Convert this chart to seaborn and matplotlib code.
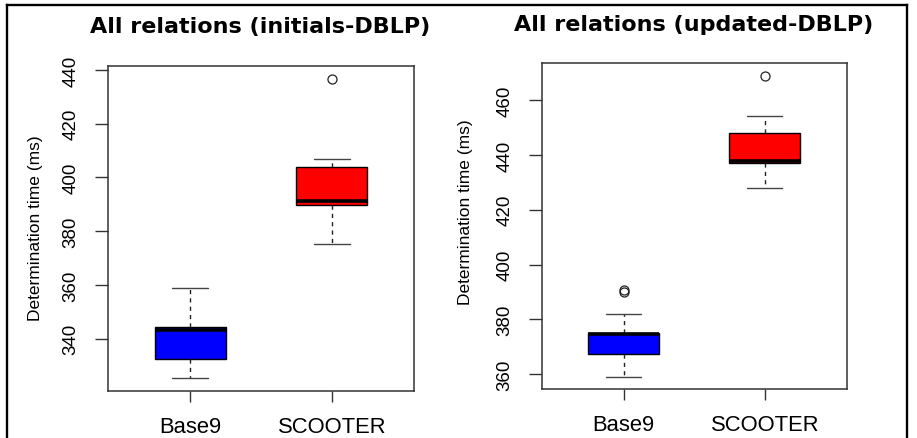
import pandas as pd
import seaborn as sns
import matplotlib.pyplot as plt
from matplotlib.lines import Line2D

methods = ["Base9", "SCOOTER"]
initials_base9 = [325.4, 329, 332.5, 338, 343.3, 343.8, 344.2, 351, 359]
initials_scooter = [375.2, 385, 389.9, 390.5, 391.1, 398, 404, 406.9, 436.8]
updated_base9 = [359, 363, 366, 367.5, 370, 372.5, 374.8, 375, 375.1, 375.2, 381.9, 390.0, 390.6]
updated_scooter = [428, 433, 437, 437.4, 437.8, 443, 447.8, 454, 468.9]

titles = ["All relations (initials-DBLP)", "All relations (updated-DBLP)"]
ylims = [(320.5, 441.5), (354.6, 473.4)]
yticks = [[340, 360, 380, 400, 420, 440], [360, 380, 400, 420, 440, 460]]
ylabel = "Determination time (ms)"
colors = ["#0000ff", "#ff0000"]

sns.set_style("white")
plt.rcParams["font.family"] = ["Liberation Sans", "DejaVu Sans"]
plt.rcParams.update({"text.color": "black", "axes.labelcolor": "black",
                     "xtick.color": "black", "ytick.color": "black"})

fig = plt.figure(figsize=(9.17, 4.39), dpi=100)
axes = [fig.add_axes([0.1178, 0.1071, 0.3337, 0.7403]),
        fig.add_axes([0.5907, 0.1116, 0.3326, 0.7419])]
data = [(initials_base9, initials_scooter), (updated_base9, updated_scooter)]
title_pos = [(260 / 917, 1 - 26.5 / 439), (694 / 917, 1 - 25 / 439)]
label_pos = [(-0.212, 0.505), (-0.225, 0.545)]

for ax, (a, b), title, yl, yt, tp, lp in zip(axes, data, titles, ylims, yticks, title_pos, label_pos):
    df = pd.DataFrame({"method": [methods[0]] * len(a) + [methods[1]] * len(b),
                       "time": a + b})
    sns.boxplot(data=df, x="method", y="time", hue="method", palette=colors,
                saturation=1, width=0.5, linewidth=1, linecolor="black",
                legend=False, ax=ax, fliersize=6.5,
                whiskerprops=dict(linestyle=(0, (3, 3)), color="#222222"),
                capprops=dict(color="#444444"),
                medianprops=dict(linewidth=2.6, color="black"),
                flierprops=dict(marker="o", markerfacecolor="none",
                                markeredgecolor="#222222", markeredgewidth=0.9))
    ax.set_xlim(-0.58, 1.58)
    ax.set_ylim(*yl)
    ax.set_yticks(yt)
    ax.set_yticklabels([str(v) for v in yt], rotation=90, va="center", fontsize=13.5)
    ax.tick_params(axis="y", left=True, direction="out", length=9.5, width=1,
                   pad=11, color="#333333")
    ax.tick_params(axis="x", bottom=True, direction="out", length=8, width=1,
                   pad=10, labelsize=15.8, color="#333333")
    ax.set_xlabel("")
    ax.set_ylabel(ylabel, fontsize=12.5)
    ax.yaxis.set_label_coords(*lp)
    for s in ax.spines.values():
        s.set_visible(True)
        s.set_color("#333333")
        s.set_linewidth(1.1)
    fig.text(tp[0], tp[1], title, ha="center", va="center",
             fontsize=16, fontweight="bold", family="DejaVu Sans")

# outer frame of the screenshot
x0, x1, ytop = 7.3 / 917, 906.7 / 917, 1 - 6 / 439
for xs, ys in [([x0, x0], [0, ytop]), ([x0, x1], [ytop, ytop]), ([x1, x1], [ytop, 0])]:
    fig.add_artist(Line2D(xs, ys, transform=fig.transFigure, color="black",
                          lw=1.7, solid_capstyle="projecting"))

fig.savefig("out.png", dpi=100)
